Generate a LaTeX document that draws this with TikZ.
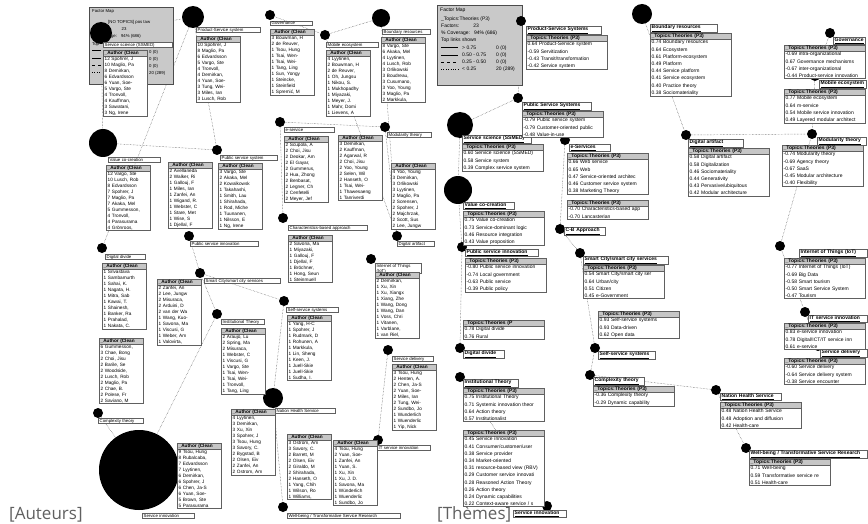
\documentclass[tikz,border=0pt]{standalone}
\usepackage{fontspec}
\setmainfont{Liberation Sans}
\newfontfamily\legfont{Open Sans}
\usetikzlibrary{shapes.multipart,backgrounds}
\tikzset{
  fator/.style={circle, fill=black, inner sep=0pt},
  rotulo/.style={draw=gray!75!black, fill=white, anchor=north west, inner xsep=1.5pt,
                 inner ysep=0.7pt, align=left, font=\fontsize{4.3}{5}\selectfont},
  rotuloT/.style={rotulo, inner ysep=0.9pt, font=\fontsize{5}{6}\selectfont\bfseries},
  tabela/.style={rectangle split, rectangle split parts=2, draw=gray!75!black,
                 rectangle split part fill={gray!45,white}, anchor=north west,
                 align=left, inner xsep=1.5pt, inner ysep=0.6pt},
  tabA/.style={tabela, text width=41pt, font=\fontsize{4.7}{6}\selectfont},
  tabT/.style={tabela, text width=78pt, font=\fontsize{5}{7.2}\selectfont},
  mapa/.style={draw=gray!60!black, fill=gray!42, anchor=north west},
  txt/.style={anchor=west, inner sep=0pt, font=\fontsize{4.3}{5}\selectfont},
  txtB/.style={txt, font=\fontsize{5}{6}\selectfont},
  liga/.style={densely dotted, gray!55!black, line width=0.45pt},
  legenda/.style={anchor=base west, inner sep=0pt, text=gray!75!black,
                  font=\legfont\fontsize{17}{17}\selectfont},
}

\begin{document}
\begin{tikzpicture}[x=1pt,y=-1pt]
    \useasboundingbox (0,0) rectangle (868,524);

    %% ================= [Auteurs] =================
    %% ---------- factor map ----------
    \node[mapa, minimum width=84pt, minimum height=77pt] (mapaA) at (89,7) {};
    \node[txt] (mA0) at (92,11) {Factor Map};
    \node[txt] (mA1) at (108,22) {[NO TOPICS] pos taw};
    \node[txt] (mA2) at (92,29) {Factors:\hspace{14pt}23};
    \node[txt] (mA3) at (92,36) {\% Coverage:\hspace{4pt}94\% (686)};
    \node[txt] (mA4) at (92,44) {Top};
    \node[txt] (mA5) at (149,52) {0 (0)};
    \node[txt] (mA6) at (149,59) {0 (0)};
    \node[txt] (mA7) at (149,66) {0 (0)};
    \node[txt] (mA8) at (149,73) {20 (289)};
    \draw[line width=1pt] (92,51) -- (101,51);
    \draw (92,58) -- (101,58);
    \draw[dashed] (92,65) -- (101,65);
    \draw[dotted] (92,72) -- (101,72);

    %% ---------- facteurs ----------
    \node[fator, minimum size=22pt] (cSS)   at (101,33)  {};
    \node[fator, minimum size=22pt] (cPS)   at (193,17)  {};
    \node[fator, minimum size=10pt] (cGOV)  at (270,15)  {};
    \node[fator, minimum size=10pt] (cMOB)  at (325,35)  {};
    \node[fator, minimum size=18pt] (cBR)   at (381,18)  {};
    \node[fator, minimum size=10pt] (cES)   at (280,122) {};
    \node[fator, minimum size=10pt] (cMOD)  at (385,127) {};
    \node[fator, minimum size=28pt] (cVC)   at (103,143) {};
    \node[fator, minimum size=10pt] (cPSS)  at (217,150) {};
    \node[fator, minimum size=10pt] (cPSI)  at (189,236) {};
    \node[fator, minimum size=10pt] (cCB)   at (283,218) {};
    \node[fator, minimum size=10pt] (cDA)   at (397,236) {};
    \node[fator, minimum size=10pt] (cDD)   at (102,248) {};
    \node[fator, minimum size=10pt] (cSC)   at (200,273) {};
    \node[fator, minimum size=10pt] (cIT)   at (217,314) {};
    \node[fator, minimum size=10pt] (cSSY)  at (284,301) {};
    \node[fator, minimum size=10pt] (cIOT)  at (371,259) {};
    \node[fator, minimum size=10pt] (cSD)   at (388,350) {};
    \node[fator, minimum size=10pt] (cCT)   at (98,413)  {};
    \node[fator, minimum size=80pt] (cSI)   at (139,470) {};
    \node[fator, minimum size=20pt] (cNHS)  at (273,398) {};
    \node[fator, minimum size=10pt] (cWB)   at (283,507) {};
    \node[fator, minimum size=10pt] (cITSI) at (378,440) {};

    %% ---------- rotulos ----------
    \node[rotulo, text width=66pt] (lSS)   at (103,42)  {Service science (SSMED)};
    \node[rotulo, text width=61pt] (lPS)   at (196,27)  {Product-Service system};
    \node[rotulo, text width=39pt] (lGOV)  at (270,21)  {Governance};
    \node[rotulo, text width=49pt] (lMOB)  at (326,42)  {Mobile ecosystem};
    \node[rotulo, text width=45pt] (lBR)   at (382,29)  {Boundary resources};
    \node[rotulo, text width=47pt] (lES)   at (284,127) {e-service};
    \node[rotulo, text width=41pt] (lMOD)  at (387,132) {Modularity theory};
    \node[rotulo, text width=49pt] (lVC)   at (108,157) {Value co-creation};
    \node[rotulo, text width=54pt] (lPSS)  at (220,155) {Public service system};
    \node[rotulo, text width=65pt] (lPSI)  at (190,241) {Public service innovation};
    \node[rotulo, text width=76pt] (lCB)   at (288,225) {Characteristics-based approach};
    \node[rotulo, text width=34pt] (lDA)   at (397,241) {Digital artifact};
    \node[rotulo, text width=37pt] (lDD)   at (105,254) {Digital divide};
    \node[rotulo, text width=73pt] (lSC)   at (204,278) {Smart City/smart city services};
    \node[rotulo, text width=40pt] (lIT)   at (221,319) {Institutional Theory};
    \node[rotulo, text width=49pt] (lSSY)  at (286,307) {Self-service systems};
    \node[rotulo, text width=43pt] (lIOT)  at (375,263) {Internet of Things (IoT)};
    \node[rotulo, text width=38pt] (lSD)   at (392,356) {Service delivery};
    \node[rotulo, text width=42pt] (lCT)   at (98,418)  {Complexity theory};
    \node[rotulo, text width=49pt] (lSI)   at (142,513) {Service innovation};
    \node[rotulo, text width=57pt] (lNHS)  at (275,408) {Nation Health Service};
    \node[rotulo, text width=110pt] (lWB)  at (287,513) {Well-being / Transformative Service Research};
    \node[rotulo, text width=50pt] (lITSI) at (377,445) {IT service innovation};

    %% ---------- tableaux auteurs ----------
    \node[tabA] (tSS) at (103,50) {\textbf{\_Author (Clean}\nodepart{two}12 Spohrer, J\\10 Maglio, Pa\\8 Demirkan,\\6 Edvardsson\\6 Yuan, Soe-\\5 Vargo, Ste\\4 Tronvoll,\\4 Kauffman,\\3 Sawatani,\\3 Ng, Irene};
    \node[tabA] (tPS) at (196,36) {\textbf{\_Author (Clean}\nodepart{two}10 Spohrer, J\\8 Maglio, Pa\\6 Edvardsson\\5 Vargo, Ste\\4 Tronvoll,\\4 Demirkan,\\4 Yuan, Soe-\\3 Tung, Wei-\\3 Miles, Ian\\3 Lusch, Rob};
    \node[tabA] (tGOV) at (270,29) {\textbf{\_Author (Clean}\nodepart{two}3 Bouwman, H\\2 de Reuver,\\1 Tsou, Hung\\1 Tsai, Wen-\\1 Tsai, Wei-\\1 Tang, Ling\\1 Sun, Yongy\\1 Steincke,\\1 Steinfield\\1 Spremi\'c, M};
    \node[tabA] (tMOB) at (326,50) {\textbf{\_Author (Clean}\nodepart{two}4 Lyytinen,\\2 Bouwman, H\\2 de Reuver,\\1 Oh, Jungsu\\1 Nikou, S.\\1 Mukhopadhy\\1 Miyazaki,\\1 Meyer, J.\\1 Mahr, Domi\\1 Lievens, A};
    \node[tabA] (tBR) at (381,37) {\textbf{\_Author (Clean}\nodepart{two}8 Vargo, Ste\\6 Akaka, Mel\\4 Lyytinen,\\4 Lusch, Rob\\3 Orlikowski\\3 Boudreau,\\3 Cusumano,\\3 Yoo, Young\\3 Maglio, Pa\\2 Markkula,};
    \node[tabA] (tES) at (284,136) {\textbf{\_Author (Clean}\nodepart{two}2 Scupola, A\\2 Choi, Jisu\\2 Deokar, Am\\2 El Gayar,\\2 Gummerus,\\2 Hua, Zhong\\2 Benbasat,\\2 Legner, Ch\\2 Cenfetelli\\2 Meyer, Jef};
    \node[tabA] (tMOD) at (338,135) {\textbf{\_Author (Clean}\nodepart{two}3 Demirkan,\\2 Kauffman,\\2 Agarwal, R\\2 Choi, Jisu\\2 Yoo, Young\\2 Selen, Wil\\2 Hanseth, O\\1 Tsai, Wei-\\1 Thawesaeng\\1 Tanriverdi};
    \node[tabA] (tVC) at (106,165) {\textbf{\_Author (Clean}\nodepart{two}12 Vargo, Ste\\10 Lusch, Rob\\8 Edvardsson\\7 Spohrer, J\\7 Maglio, Pa\\7 Akaka, Mel\\5 Gummesson,\\4 Tronvoll,\\4 Parasurama\\4 Gr\"onroos,};
    \node[tabA] (tPSS) at (218,163) {\textbf{\_Author (Clean}\nodepart{two}3 Vargo, Ste\\2 Akaka, Mel\\2 Kowalkowsk\\1 Takahashi,\\1 Smith, Lau\\1 Shirahada,\\1 Rod, Miche\\1 Tuunanen,\\1 Nilsson, E\\1 Ng, Irene};
    \node[tabA] (tPSI) at (168,162) {\textbf{\_Author (Clean}\nodepart{two}2 Avellaneda\\2 Walker, Ri\\1 Gallouj, F\\1 Miles, Ian\\1 Zanfei, An\\1 Wigand, R.\\1 Webster, C\\1 Stare, Met\\1 Wise, S\\1 Djellal, F};
    \node[tabA] (tCB) at (288,235) {\textbf{\_Author (Clean}\nodepart{two}2 Savona, Ma\\1 Miyazaki,\\1 Gallouj, F\\1 Djellal, F\\1 Br\"ochner,\\1 Hong, Seun\\1 Steinmuell};
    \node[tabA] (tDA) at (391,163) {\textbf{\_Author (Clean}\nodepart{two}4 Yoo, Young\\3 Demirkan,\\3 Orlikowski\\3 Lyytinen,\\2 Maglio, Pa\\2 Sorensen,\\2 Spohrer, J\\2 Majchrzak,\\2 Scott, Sus\\2 Lee, Jungw};
    \node[tabA] (tDD) at (102,263) {\textbf{\_Author (Clean}\nodepart{two}1 Srivastava\\1 Sambamurth\\1 Sahai, K.\\1 Nagata, H.\\1 Mitra, Sab\\1 Kawai, T.\\1 Shainesh,\\1 Banker, Ra\\1 Prahalad,\\1 Nakata, C.};
    \node[tabA] (tCT) at (99,338) {\textbf{\_Author (Clean}\nodepart{two}6 Gummesson,\\3 Chae, Bong\\2 Choi, Jisu\\2 Barile, Se\\2 Woodside,\\2 Lusch, Rob\\2 Maglio, Pa\\2 Chae, B.\\2 Polese, Fr\\2 Saviano, M};
    \node[tabA] (tSC) at (157,279) {\textbf{\_Author (Clean}\nodepart{two}2 Zanfei, An\\2 Lee, Jungw\\2 Misuraca,\\2 Arduini, D\\2 van der Wa\\1 Wang, Kuo-\\1 Savona, Ma\\1 Viscusi, G\\1 Weber, Am\\1 Valovirta,};
    \node[tabA] (tIT) at (221,328) {\textbf{\_Author (Clean}\nodepart{two}2 Araujo, Lu\\2 Spring, Ma\\2 Misuraca,\\1 Webster, C\\1 Viscusi, G\\1 Vargo, Ste\\1 Tsai, Wen-\\1 Tsai, Wei-\\1 Tronvoll,\\1 Tang, Ling};
    \node[tabA] (tSSY) at (287,315) {\textbf{\_Author (Clean}\nodepart{two}1 Yang, H-C\\1 Spohrer, J\\1 Rudmark, D\\1 Rohunen, A\\1 Markkula,\\1 Lin, Sheng\\1 Keen, J.\\1 Juell-Skie\\1 Juell-Skie\\1 Sudha, I.};
    \node[tabA] (tIOT) at (375,272) {\textbf{\_Author (Clean}\nodepart{two}2 Demirkan,\\1 Xu, Xin\\1 Xu, Xiangx\\1 Xiang, Zhe\\1 Wang, Dong\\1 Wang, Dan\\1 Voss, Chri\\1 Vitanen,\\1 Varblane,\\1 van Riel,};
    \node[tabA] (tSD) at (392,364) {\textbf{\_Author (Clean}\nodepart{two}3 Tsou, Hung\\2 Henten, A.\\2 Chen, Ja-S\\2 Yuan, Soe-\\2 Miles, Ian\\2 Tung, Wei-\\2 Sundbo, Jo\\1 Wunderlich\\1 Wuenderlic\\1 Yip, Nick};
    \node[tabA] (tSI) at (177,443) {\textbf{\_Author (Clean}\nodepart{two}9 Tsou, Hung\\8 Rubalcaba,\\7 Edvardsson\\7 Lyytinen,\\6 Demirkan,\\6 Spohrer, J\\6 Chen, Ja-S\\6 Yuan, Soe-\\5 Brown, Ste\\5 Parasurama};
    \node[tabA] (tNHS) at (231,409) {\textbf{\_Author (Clean}\nodepart{two}4 Lyytinen,\\3 Demirkan,\\3 Xu, Xin\\3 Spohrer, J\\3 Tsou, Hung\\3 Savory, C.\\2 Bygstad, B\\2 Olsen, Eiv\\2 Zanfei, An\\2 Ostrom, Am};
    \node[tabA] (tWB) at (287,434) {\textbf{\_Author (Clean}\nodepart{two}3 Ostrom, Am\\3 Savory, C.\\2 Barrett, M\\2 Olsen, Eiv\\2 Giraldo, M\\2 Shirahada,\\2 Hanseth, O\\1 Yang, Chih\\1 Wilson, Ro\\1 Williams,};
    \node[tabA] (tITSI) at (333,440) {\textbf{\_Author (Clean}\nodepart{two}4 Tsou, Hung\\2 Yuan, Soe-\\1 Zanfei, An\\1 Yuan, S.\\1 Xu, Xin\\1 Xu, J. D.\\1 Savona, Ma\\1 W\"underlich\\1 Wuenderlic\\1 Sundbo, Jo};

    %% ---------- liens ----------
    \begin{scope}[on background layer]
      \foreach \a/\b in {cSS/cPS, cSS/cVC, cPS/cPSS, cPS/cDD, cGOV/cMOB, cMOB/cBR,
                         cMOB/cDA, cES/cMOD, cES/cCB, cBR/cDA, cMOD/cDA, cVC/cPSS,
                         cPSI/cSC, cSC/cSSY, cSC/cIT, cIT/cSI, cSSY/cNHS,
                         cNHS/cWB, cSD/cITSI, cCT/cSI}
        \draw[liga] (\a) -- (\b);
    \end{scope}

    \node[legenda] (capA) at (9,519) {[Auteurs]};

    %% ================= [Thèmes] =================
    %% ---------- factor map ----------
    \node[mapa, minimum width=85pt, minimum height=80pt] (mapaB) at (437,5) {};
    \node[txtB] (mB0) at (440,10) {Factor Map};
    \node[txtB] (mB1) at (441,19) {\_Topics:Theories (P3)};
    \node[txtB] (mB2) at (441,26) {Factors:\hspace{14pt}23};
    \node[txtB] (mB3) at (441,33) {\% Coverage:\hspace{4pt}94\% (686)};
    \node[txtB] (mB4) at (441,40) {Top links shown};
    \node[txtB] (mB5) at (462,48) {> 0.75};
    \node[txtB] (mB6) at (462,55) {0.50 - 0.75};
    \node[txtB] (mB7) at (462,62) {0.25 - 0.50};
    \node[txtB] (mB8) at (462,69) {< 0.25};
    \node[txtB] (mB9)  at (496,48) {0 (0)};
    \node[txtB] (mB10) at (496,55) {0 (0)};
    \node[txtB] (mB11) at (496,62) {0 (0)};
    \node[txtB] (mB12) at (496,69) {20 (289)};
    \draw[line width=1pt] (441,48) -- (458,48);
    \draw (441,55) -- (458,55);
    \draw[dashed] (441,62) -- (458,62);
    \draw[dotted] (441,69) -- (458,69);

    %% ---------- facteurs ----------
    \node[fator, minimum size=10pt] (dPS)   at (521,21)  {};
    \node[fator, minimum size=20pt] (dBR)   at (642,14)  {};
    \node[fator, minimum size=10pt] (dGOV)  at (830,33)  {};
    \node[fator, minimum size=10pt] (dMOB)  at (815,76)  {};
    \node[fator, minimum size=10pt] (dMOD)  at (812,134) {};
    \node[fator, minimum size=10pt] (dDA)   at (686,135) {};
    \node[fator, minimum size=10pt] (dPSS)  at (518,98)  {};
    \node[fator, minimum size=26pt] (dSS)   at (460,125) {};
    \node[fator, minimum size=28pt] (dVC)   at (458,190) {};
    \node[fator, minimum size=10pt] (dES)   at (565,140) {};
    \node[fator, minimum size=10pt] (dCB)   at (560,229) {};
    \node[fator, minimum size=10pt] (dIOT)  at (780,246) {};
    \node[fator, minimum size=10pt] (dPSI)  at (462,247) {};
    \node[fator, minimum size=10pt] (dSC)   at (580,253) {};
    \node[fator, minimum size=10pt] (dDD)   at (460,348) {};
    \node[fator, minimum size=10pt] (dSSY)  at (595,348) {};
    \node[fator, minimum size=10pt] (dITSI) at (805,312) {};
    \node[fator, minimum size=10pt] (dSD)   at (818,346) {};
    \node[fator, minimum size=10pt] (dIT)   at (460,377) {};
    \node[fator, minimum size=10pt] (dCT)   at (590,375) {};
    \node[fator, minimum size=10pt] (dNHS)  at (716,390) {};
    \node[fator, minimum size=10pt] (dSI)   at (547,506) {};
    \node[fator, minimum size=10pt] (dWB)   at (746,448) {};

    %% ---------- rotulos ----------
    \node[rotuloT, text width=72pt] (kPS)   at (526,26)  {\underline{Product-Service Systems}};
    \node[rotuloT, text width=64pt] (kBR)   at (650,24)  {\underline{Boundary resources}};
    \node[rotuloT, text width=29pt] (kGOV)  at (833,37)  {\underline{Governance}};
    \node[rotuloT, text width=44pt] (kMOB)  at (819,80)  {\underline{Mobile ecosystem}};
    \node[rotuloT, text width=46pt] (kMOD)  at (817,137) {\underline{Modularity theory}};
    \node[rotuloT, text width=52pt] (kDA)   at (688,139) {\underline{Digital artifact}};
    \node[rotuloT, text width=66pt] (kPSS)  at (522,102) {\underline{Public Service Systems}};
    \node[rotuloT, text width=66pt] (kSS)   at (462,135) {\underline{Service science (SSMED)}};
    \node[rotuloT, text width=48pt] (kVC)   at (463,202) {\underline{Value co-creation}};
    \node[rotuloT, text width=38pt] (kES)   at (569,144) {\underline{e-Services}};
    \node[rotuloT, text width=38pt] (kCB)   at (564,227) {\underline{C-B Approach}};
    \node[rotuloT, text width=65pt] (kIOT)  at (799,249) {\underline{Internet of Things (IoT)}};
    \node[rotuloT, text width=70pt] (kPSI)  at (465,249) {\underline{Public service innovation}};
    \node[rotuloT, text width=82pt] (kSC)   at (583,256) {\underline{Smart City/smart city services}};
    \node[rotuloT, text width=38pt] (kDD)   at (463,350) {\underline{Digital divide}};
    \node[rotuloT, text width=54pt] (kSSY)  at (598,351) {\underline{Self-service systems}};
    \node[rotuloT, text width=56pt] (kITSI) at (808,315) {\underline{IT service innovation}};
    \node[rotuloT, text width=44pt] (kSD)   at (820,349) {\underline{Service delivery}};
    \node[rotuloT, text width=52pt] (kIT)   at (463,379) {\underline{Institutional Theory}};
    \node[rotuloT, text width=48pt] (kCT)   at (593,377) {\underline{Complexity theory}};
    \node[rotuloT, text width=58pt] (kNHS)  at (720,393) {\underline{Nation Health Service}};
    \node[rotuloT, text width=50pt] (kSI)   at (513,510) {\underline{Service innovation}};
    \node[rotuloT, text width=115pt] (kWB)  at (749,450) {\underline{Well-being / Transformative Service Research}};

    %% ---------- tableaux themes ----------
    \node[tabT] (uPS) at (526,35) {\textbf{\_Topics:Theories (P3)}\nodepart{two}0.64 Product-Service system\\-0.59 Servitization\\-0.43 Transit/transformation\\-0.42 Service system};
    \node[tabT] (uBR) at (650,33) {\textbf{\_Topics:Theories (P3)}\nodepart{two}0.74 Boundary resources\\0.64 Ecosystem\\0.61 Platform-ecosystem\\0.49 Platform\\0.44 Service platform\\0.41 Service ecosystem\\0.40 Practice theory\\0.38 Sociomateriality};
    \node[tabT] (uGOV) at (784,45) {\textbf{\_Topics:Theories (P3)}\nodepart{two}-0.69 intra-organizational\\0.67 Governance mechanisms\\-0.67 inter-organizational\\-0.44 Product-service innovation};
    \node[tabT] (uMOB) at (784,89) {\textbf{\_Topics:Theories (P3)}\nodepart{two}0.77 Mobile ecosystem\\0.64 m-service\\0.54 Mobile service innovation\\0.49 Layered modular architect};
    \node[tabT] (uMOD) at (782,145) {\textbf{\_Topics:Theories (P3)}\nodepart{two}-0.74 Modularity theory\\-0.69 Agency theory\\-0.67 SaaS\\-0.45 Modular architecture\\-0.40 Flexibility};
    \node[tabT] (uDA) at (688,148) {\textbf{\_Topics:Theories (P3)}\nodepart{two}0.58 Digital artifact\\0.58 Digitalization\\0.46 Sociomateriality\\0.44 Generativity\\0.43 Pervasive/ubiquitous\\0.42 Modular architecture};
    \node[tabT] (uPSS) at (522,111) {\textbf{\_Topics:Theories (P3)}\nodepart{two}-0.79 Public service system\\-0.79 Customer-oriented public\\-0.48 Value-in-use};
    \node[tabT] (uSS) at (462,144) {\textbf{\_Topics:Theories (P3)}\nodepart{two}0.60 Service science (SSMED)\\0.58 Service system\\0.39 Complex service system};
    \node[tabT] (uVC) at (463,211) {\textbf{\_Topics:Theories (P3)}\nodepart{two}0.75 Value co-creation\\0.73 Service-dominant logic\\0.46 Resource integration\\0.43 Value proposition};
    \node[tabT] (uES) at (567,153) {\textbf{\_Topics:Theories (P3)}\nodepart{two}0.66 Web service\\0.65 Web\\0.47 Service-oriented architec\\0.46 Customer service system\\0.38 Marketing Theory};
    \node[tabT] (uCB) at (567,200) {\textbf{\_Topics:Theories (P3)}\nodepart{two}-0.70 Characteristics-based app\\-0.70 Lancasterian};
    \node[tabT] (uIOT) at (784,258) {\textbf{\_Topics:Theories (P3)}\nodepart{two}-0.77 Internet of Things (IoT)\\-0.69 Big Data\\-0.58 Smart tourism\\-0.50 Smart Service System\\-0.47 Tourism};
    \node[tabT] (uPSI) at (465,258) {\textbf{\_Topics:Theories (P3)}\nodepart{two}-0.80 Public service innovation\\-0.74 Local government\\-0.63 Public service\\-0.39 Public policy};
    \node[tabT] (uSC) at (583,265) {\textbf{\_Topics:Theories (P3)}\nodepart{two}0.54 Smart City/smart city ser\\0.64 Urban/city\\0.51 Citizen\\0.45 e-Government};
    \node[tabT] (uDD) at (463,320) {\textbf{\_Topics:Theories (P}\nodepart{two}0.78 Digital divide\\0.76 Rural};
    \node[tabT] (uSSY) at (598,311) {\textbf{\_Topics:Theories (P3)}\nodepart{two}0.93 Self-service systems\\0.93 Data-driven\\0.62 Open data};
    \node[tabT] (uITSI) at (784,323) {\textbf{\_Topics:Theories (P3)}\nodepart{two}0.83 e-service innovation\\0.78 Digital/ICT/IT service inn\\0.61 e-service};
    \node[tabT] (uSD) at (784,358) {\textbf{\_Topics:Theories (P3)}\nodepart{two}-0.60 Service delivery\\-0.64 Service delivery system\\-0.38 Service encounter};
    \node[tabT] (uIT) at (463,388) {\textbf{\_Topics:Theories (P3)}\nodepart{two}0.75 Institutional Theory\\0.71 Systemic innovation theor\\0.64 Action theory\\0.57 Institutionalist};
    \node[tabT] (uCT) at (593,386) {\textbf{\_Topics:Theories (P3)}\nodepart{two}-0.36 Complexity theory\\-0.29 Dynamic capability};
    \node[tabT] (uNHS) at (720,402) {\textbf{\_Topics:Theories (P3)}\nodepart{two}0.48 Nation Health Service\\0.48 Adoption and diffusion\\0.42 Health-care};
    \node[tabT] (uSI) at (463,430) {\textbf{\_Topics:Theories (P3)}\nodepart{two}0.45 Service innovation\\0.41 Consumer/customer/user\\0.38 Service provider\\0.34 Market-oriented\\0.31 resource-based view (RBV)\\0.29 Customer service innovati\\0.28 Reasoned Action Theory\\0.26 Action theory\\0.24 Dynamic capabilities\\0.22 Context-aware service / s};
    \node[tabT] (uWB) at (749,459) {\textbf{\_Topics:Theories (P3)}\nodepart{two}0.71 Well-being\\0.59 Transformative service re\\0.51 Health-care};

    %% ---------- liens ----------
    \begin{scope}[on background layer]
      \foreach \a/\b in {dSS/dVC, dSS/dPSS, dPS/dPSS, dBR/dDA, dMOB/dMOD, dDA/dMOD,
                         dES/dCB, dPSI/dDD, dSC/dSSY, dIT/dSI, dCT/dSSY, dNHS/dWB,
                         dITSI/dSD, dES/dPSS, dCB/dSC, dPSI/dVC, dIOT/dMOD,
                         dCT/dNHS, dSD/dIOT, dMOB/dGOV}
        \draw[liga] (\a) -- (\b);
    \end{scope}

    \node[legenda] (capB) at (437,519) {[Th\`emes]};

    \end{tikzpicture}
\end{document}
